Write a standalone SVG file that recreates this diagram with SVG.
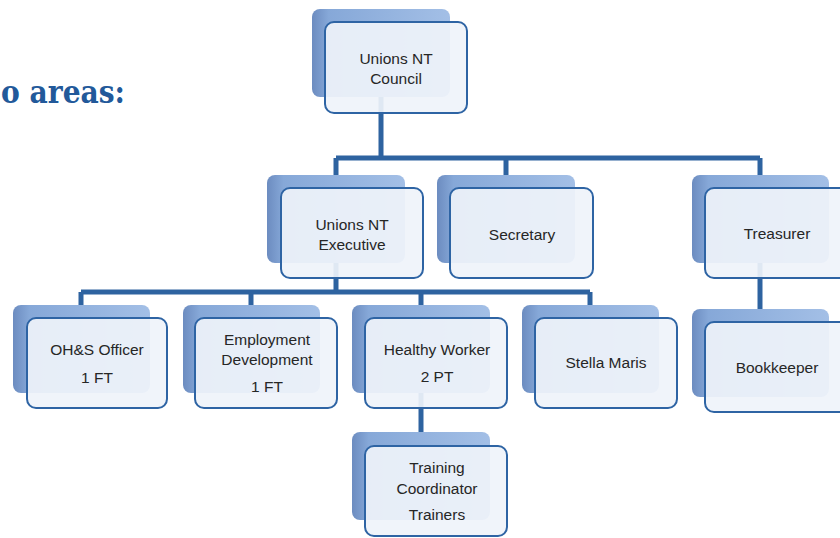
<svg xmlns="http://www.w3.org/2000/svg" width="840" height="538" viewBox="0 0 840 538">
<style>
.back{fill:url(#bg);}
.front{fill:#EFF3FA;fill-opacity:0.92;stroke:#2E64A4;stroke-width:2;}
.t{font-family:"Liberation Sans",Arial,sans-serif;font-size:15.5px;fill:#262626;text-anchor:middle;}
.conn{stroke:#2E63A0;stroke-width:5;fill:none;stroke-linejoin:miter;}
.title{font-family:"DejaVu Serif","Liberation Serif",serif;font-weight:bold;font-size:31px;fill:#22599A;}
</style>
<defs>
<linearGradient id="bg" x1="0" y1="0" x2="1" y2="0">
<stop offset="0" stop-color="#6C8CC0"/>
<stop offset="0.12" stop-color="#86A8D8"/>
<stop offset="1" stop-color="#A3BFE6"/>
</linearGradient>
</defs>
<rect width="840" height="538" fill="#FFFFFF"/>
<text class="title" x="1" y="103" textLength="124" lengthAdjust="spacingAndGlyphs">o areas:</text>
<g id="connectors">
<path class="conn" d="M381 97 V158 M336 158 H760 M336 158 V175 M506 158 V175 M760 158 V175"/>
<path class="conn" d="M336 263 V292 M81 292 H590 M81 292 V305 M251 292 V305 M421 292 V305 M590 292 V305"/>
<path class="conn" d="M760 263 V309"/>
<path class="conn" d="M421 393 V432"/>
</g>
<g id="council">
<rect class="back" x="312" y="9" width="138" height="88" rx="8"/>
<rect class="front" x="325" y="22" width="142" height="91" rx="9"/>
<text class="t" x="396" y="64">Unions NT</text>
<text class="t" x="396" y="84">Council</text>
</g>
<g id="executive">
<rect class="back" x="267" y="175" width="138" height="88" rx="8"/>
<rect class="front" x="281" y="188" width="142" height="90" rx="9"/>
<text class="t" x="352" y="230">Unions NT</text>
<text class="t" x="352" y="250">Executive</text>
</g>
<g id="secretary">
<rect class="back" x="437" y="175" width="138" height="88" rx="8"/>
<rect class="front" x="450" y="188" width="143" height="90" rx="9"/>
<text class="t" x="522" y="240">Secretary</text>
</g>
<g id="treasurer">
<rect class="back" x="692" y="175" width="137" height="88" rx="8"/>
<rect class="front" x="705" y="188" width="143" height="90" rx="9"/>
<text class="t" x="777" y="239">Treasurer</text>
</g>
<g id="bookkeeper">
<rect class="back" x="692" y="309" width="137" height="88" rx="8"/>
<rect class="front" x="705" y="322" width="143" height="90" rx="9"/>
<text class="t" x="777" y="373">Bookkeeper</text>
</g>
<g id="ohs">
<rect class="back" x="13" y="305" width="137" height="88" rx="8"/>
<rect class="front" x="27" y="318" width="140" height="90" rx="9"/>
<text class="t" x="97" y="355">OH&amp;S Officer</text>
<text class="t" x="97" y="383">1 FT</text>
</g>
<g id="employment">
<rect class="back" x="183" y="305" width="137" height="88" rx="8"/>
<rect class="front" x="195" y="318" width="142" height="90" rx="9"/>
<text class="t" x="267" y="345">Employment</text>
<text class="t" x="267" y="365">Development</text>
<text class="t" x="267" y="392">1 FT</text>
</g>
<g id="healthy-worker">
<rect class="back" x="352" y="305" width="138" height="88" rx="8"/>
<rect class="front" x="365" y="318" width="142" height="90" rx="9"/>
<text class="t" x="437" y="355">Healthy Worker</text>
<text class="t" x="437" y="382">2 PT</text>
</g>
<g id="stella-maris">
<rect class="back" x="522" y="305" width="137" height="88" rx="8"/>
<rect class="front" x="535" y="318" width="142" height="90" rx="9"/>
<text class="t" x="606" y="368">Stella Maris</text>
</g>
<g id="training">
<rect class="back" x="352" y="432" width="138" height="88" rx="8"/>
<rect class="front" x="365" y="446" width="142" height="90" rx="9"/>
<text class="t" x="437" y="473">Training</text>
<text class="t" x="437" y="494">Coordinator</text>
<text class="t" x="437" y="520">Trainers</text>
</g>
</svg>
